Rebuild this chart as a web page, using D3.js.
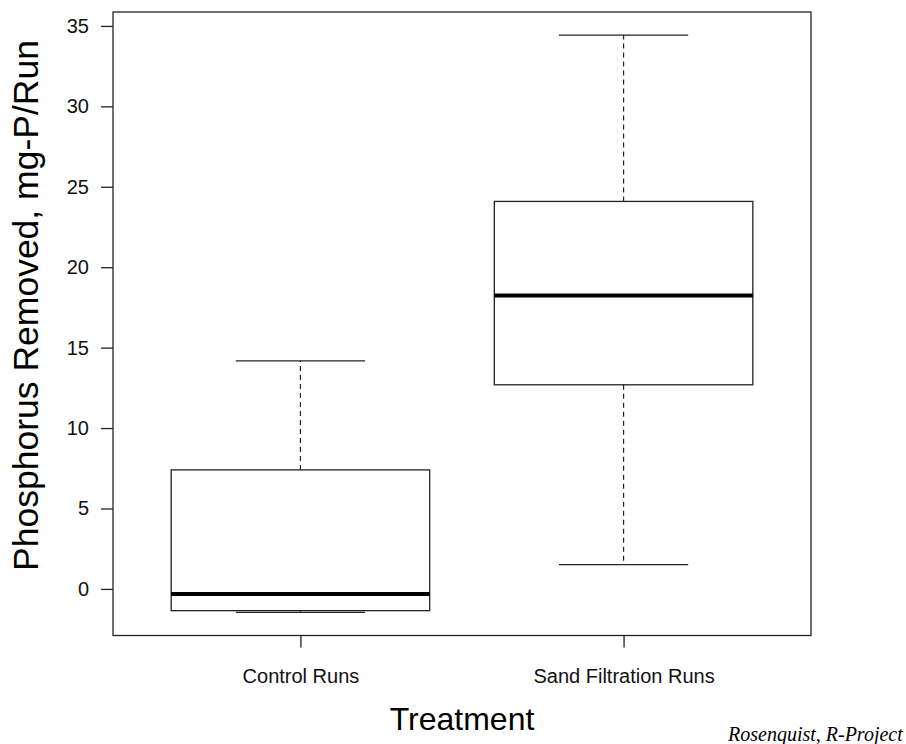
<!DOCTYPE html>
<html>
<head>
<meta charset="utf-8">
<script src="https://cdn.jsdelivr.net/npm/d3@7"></script>
<style>
  html, body { margin: 0; padding: 0; background: #fff; }
  svg { display: block; }
</style>
</head>
<body>
<svg id="chart" width="906" height="744"></svg>
<script>
// Phosphorus removed per run, five-number summaries for each treatment
const categories  = ["Control Runs", "Sand Filtration Runs"];
const whiskerLow  = [-1.46, 1.51];
const lowerQuart  = [-1.35, 12.69];
const medians     = [-0.31, 18.24];
const upperQuart  = [7.40, 24.09];
const whiskerHigh = [14.18, 34.43];
const yTicks      = [0, 5, 10, 15, 20, 25, 30, 35];

const svg = d3.select("#chart");
const frame = { left: 113, right: 811, top: 12, bottom: 635.5 };
const ink = "#222";
const sans = "'Liberation Sans', Arial, sans-serif";

// R-style axis extents: 4% padding beyond the data range
const lo = d3.min(whiskerLow), hi = d3.max(whiskerHigh);
const pad = (hi - lo) * 0.04;
const y = d3.scaleLinear().domain([lo - pad, hi + pad]).range([frame.bottom, frame.top]);

const n = categories.length;
const xPad = n * 0.04;
const x = d3.scaleLinear().domain([0.5 - xPad, n + 0.5 + xPad]).range([frame.left, frame.right]);
const halfBox = x(0.4) - x(0);
const halfCap = x(0.2) - x(0);

const boxes = categories.map((c, i) => ({
  name: c, pos: i + 1,
  lo: whiskerLow[i], q1: lowerQuart[i], med: medians[i], q3: upperQuart[i], hi: whiskerHigh[i]
}));

const g = svg.append("g");

boxes.forEach(b => {
  const cx = x(b.pos);
  // dashed whiskers
  g.append("line").attr("x1", cx).attr("x2", cx).attr("y1", y(b.q3)).attr("y2", y(b.hi))
    .attr("stroke", ink).attr("stroke-width", 1.2).attr("stroke-dasharray", "5,4");
  g.append("line").attr("x1", cx).attr("x2", cx).attr("y1", y(b.q1)).attr("y2", y(b.lo))
    .attr("stroke", ink).attr("stroke-width", 1.2).attr("stroke-dasharray", "5,4");
  // whisker caps
  [b.lo, b.hi].forEach(v => {
    g.append("line").attr("x1", cx - halfCap).attr("x2", cx + halfCap)
      .attr("y1", y(v)).attr("y2", y(v)).attr("stroke", ink).attr("stroke-width", 1.3);
  });
  // box
  g.append("rect").attr("x", cx - halfBox).attr("y", y(b.q3))
    .attr("width", 2 * halfBox).attr("height", y(b.q1) - y(b.q3))
    .attr("fill", "none").attr("stroke", ink).attr("stroke-width", 1.3);
  // median
  g.append("line").attr("x1", cx - halfBox).attr("x2", cx + halfBox)
    .attr("y1", y(b.med)).attr("y2", y(b.med)).attr("stroke", "#000").attr("stroke-width", 4);
});

// plot frame
svg.append("rect").attr("x", frame.left).attr("y", frame.top)
  .attr("width", frame.right - frame.left).attr("height", frame.bottom - frame.top)
  .attr("fill", "none").attr("stroke", ink).attr("stroke-width", 1.3);

// y axis
const yAxis = svg.append("g").attr("transform", `translate(${frame.left},0)`)
  .call(d3.axisLeft(y).tickValues(yTicks).tickSize(12).tickPadding(12).tickFormat(d3.format("d")));
yAxis.select(".domain").remove();
yAxis.selectAll(".tick line").attr("stroke", ink).attr("stroke-width", 1.3);
yAxis.selectAll(".tick text").attr("font-family", sans).attr("font-size", 20).attr("fill", "#111");

// x axis
const xAxis = svg.append("g").attr("transform", `translate(0,${frame.bottom})`)
  .call(d3.axisBottom(x).tickValues(boxes.map(b => b.pos)).tickSize(12).tickPadding(21)
    .tickFormat((d, i) => categories[i]));
xAxis.select(".domain").remove();
xAxis.selectAll(".tick line").attr("stroke", ink).attr("stroke-width", 1.3);
xAxis.selectAll(".tick text").attr("font-family", sans).attr("font-size", 20).attr("fill", "#111");

// axis titles
svg.append("text").attr("x", 462).attr("y", 730).attr("text-anchor", "middle")
  .attr("font-family", sans).attr("font-size", 32).attr("fill", "#000").text("Treatment");
svg.append("text").attr("transform", "translate(38,305.5) rotate(-90)").attr("text-anchor", "middle")
  .attr("font-family", sans).attr("font-size", 35.5).attr("fill", "#000").text("Phosphorus Removed, mg-P/Run");

// credit line
svg.append("text").attr("x", 728).attr("y", 741)
  .attr("font-family", "'Liberation Serif', 'Times New Roman', serif").attr("font-style", "italic")
  .attr("font-size", 20).attr("fill", "#000").text("Rosenquist, R-Project");
</script>
</body>
</html>
